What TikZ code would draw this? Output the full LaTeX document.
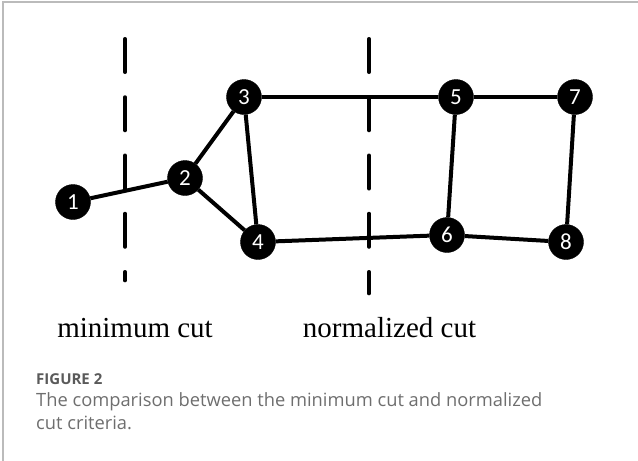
\documentclass[tikz,border=0pt]{standalone}
\usepackage{fontspec}
\setmainfont{Liberation Serif}
\newfontfamily\numfont{Carlito}
\newfontfamily\capfont{Open Sans}
\definecolor{framegray}{HTML}{BBBBBB}
\definecolor{capgray}{HTML}{6E6E6E}
\definecolor{figgray}{HTML}{5A5A5A}
\begin{document}
\begin{tikzpicture}[x=1pt,y=-1pt,
  vtx/.style={circle,fill=black,draw=black,minimum size=35pt,inner sep=0pt,
    text=white,font=\numfont\fontsize{23}{23}\selectfont},
  edge/.style={line width=4pt},
  cutline/.style={line width=3.6pt,line cap=round,dash pattern=on 33.4pt off 24.85pt},
  cutlabel/.style={anchor=base,font=\fontsize{29}{29}\selectfont,inner sep=0pt},
  captxt/.style={anchor=base west,inner sep=0pt,text=capgray,font=\capfont\fontsize{18.3}{18.3}\selectfont}
]
\useasboundingbox (0,0) rectangle (638,461);
\draw[framegray,line width=1.2pt] (3,461) -- (3,2) -- (638,2);

% cut lines
\coordinate (c1t) at (125,38.8);
\coordinate (c1b) at (125,280.5);
\coordinate (c2t) at (369,38.8);
\coordinate (c2b) at (369,293.5);
\draw[cutline] (c1t) -- (c1b);
\draw[cutline] (c2t) -- (c2b);

% vertices
\node[vtx] (n1) at (73,202) {1};
\node[vtx] (n2) at (185,178) {2};
\node[vtx] (n3) at (244,97) {3};
\node[vtx] (n4) at (258,242) {4};
\node[vtx] (n5) at (456,97) {5};
\node[vtx] (n6) at (447,235) {6};
\node[vtx] (n7) at (575,97) {7};
\node[vtx] (n8) at (566,242) {8};

\draw[edge] (n1) -- (n2);
\draw[edge] (n2) -- (n3);
\draw[edge] (n2) -- (n4);
\draw[edge] (n3) -- (n4);
\draw[edge] (n3) -- (n5);
\draw[edge] (n5) -- (n7);
\draw[edge] (n5) -- (n6);
\draw[edge] (n7) -- (n8);
\draw[edge] (n4) -- (n6);
\draw[edge] (n6) -- (n8);

% labels
\node[cutlabel] (lmin) at (135,337) {minimum cut};
\node[cutlabel] (lnorm) at (389.5,337) {normalized cut};

% caption
\node[captxt,text=figgray,font=\capfont\bfseries\fontsize{15}{15}\selectfont] (fig) at (36,384) {FIGURE 2};
\node[captxt] (cap1) at (36,406) {The comparison between the minimum cut and normalized};
\node[captxt] (cap2) at (36,429) {cut criteria.};
\end{tikzpicture}
\end{document}
